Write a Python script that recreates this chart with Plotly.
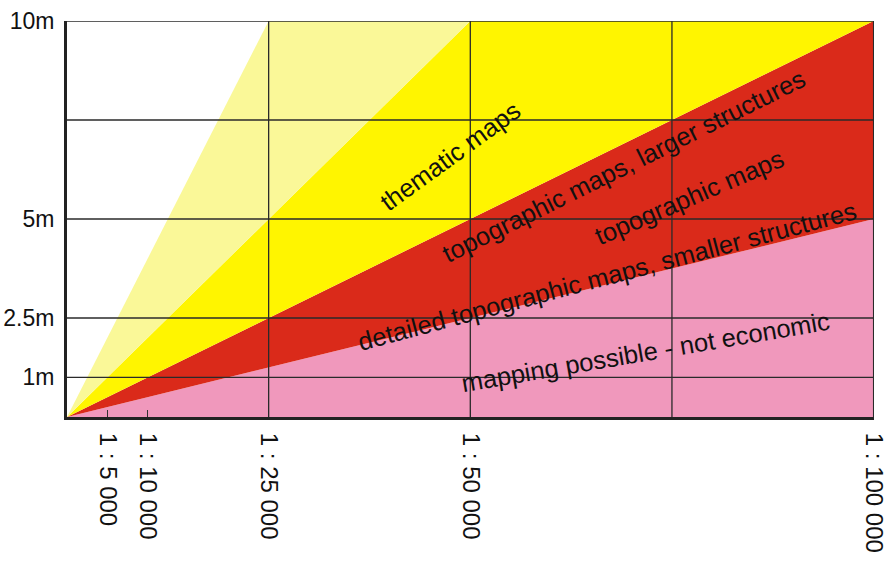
import plotly.graph_objects as go

# ---- data ----
# boundary lines through the origin, given by their end points (scale denominator, height in m)
pink_top = (100000, 5)      # "mapping possible - not economic" upper limit
red_top = (100000, 10)      # red band upper limit
yellow_top = (50000, 10)    # yellow band upper limit
pale_top = (25000, 10)      # pale yellow band upper limit

x_tick_vals = [5000, 10000, 25000, 50000, 100000]
x_tick_text = ["1 : 5 000", "1 : 10 000", "1 : 25 000", "1 : 50 000", "1 : 100 000"]
y_tick_vals = [1, 2.5, 5, 7.5, 10]
y_tick_text = ["1m", "2.5m", "5m", "", "10m"]
grid_x = [25000, 50000, 75000, 100000]
grid_y = [1, 2.5, 5, 7.5, 10]

labels = ["thematic maps", "topographic maps, larger structures", "topographic maps",
          "detailed topographic maps, smaller structures", "mapping possible - not economic"]
label_x = [47500, 69000, 77200, 67000, 71700]
label_y = [6.6, 6.35, 5.55, 3.55, 1.65]
label_angle = [-36, -26.4, -23.3, -14.9, -9.7]

colors = {"pale": "#FAF898", "yellow": "#FFF500", "red": "#DA2A1A", "pink": "#F098BC"}

fig = go.Figure()

def tri(p_a, p_b, color):
    fig.add_trace(go.Scatter(
        x=[0, p_a[0], p_b[0], 0], y=[0, p_a[1], p_b[1], 0],
        fill="toself", fillcolor=color, mode="lines", line=dict(width=0, color=color),
        hoverinfo="skip", showlegend=False))

tri((pink_top[0], 0), pink_top, colors["pink"])
tri(pink_top, red_top, colors["red"])
tri(red_top, yellow_top, colors["yellow"])
tri(yellow_top, pale_top, colors["pale"])

shapes = []
for gx in grid_x:
    shapes.append(dict(type="line", xref="x", yref="paper", x0=gx, x1=gx, y0=0, y1=1,
                       line=dict(color="#2a2a2a", width=1.3), layer="above"))
for gy in grid_y:
    shapes.append(dict(type="line", xref="paper", yref="y", x0=0, x1=1, y0=gy, y1=gy,
                       line=dict(color="#2a2a2a", width=1.3), layer="above"))

annotations = []
for t, ax, ay, ang in zip(labels, label_x, label_y, label_angle):
    annotations.append(dict(x=ax, y=ay, xref="x", yref="y", text=t, showarrow=False,
                            textangle=ang, font=dict(size=25.5, color="#111")))

fig.update_layout(
    width=886, height=562,
    margin=dict(l=67, r=12, t=21, b=145),
    paper_bgcolor="white", plot_bgcolor="white",
    font=dict(family="Liberation Sans, Arial, sans-serif", color="#111"),
    shapes=shapes, annotations=annotations,
    xaxis=dict(range=[0, 100050], tickvals=x_tick_vals, ticktext=x_tick_text,
               tickangle=90, tickfont=dict(size=24), showgrid=False, zeroline=False,
               showline=True, linecolor="#222", linewidth=3,
               ticks="inside", ticklen=7, tickcolor="#333", tickwidth=1,
               ticklabelstandoff=8, ticklabeloverflow="allow",
               automargin=False, fixedrange=True),
    yaxis=dict(range=[0, 10], tickvals=y_tick_vals, ticktext=y_tick_text,
               tickfont=dict(size=23), showgrid=False, zeroline=False,
               showline=True, linecolor="#222", linewidth=3, ticks="",
               ticklabelstandoff=5, automargin=False, fixedrange=True),
)

fig.write_html("out.html", config={"displayModeBar": False},
               post_script="document.body.style.margin='0';document.body.style.overflow='hidden';")
